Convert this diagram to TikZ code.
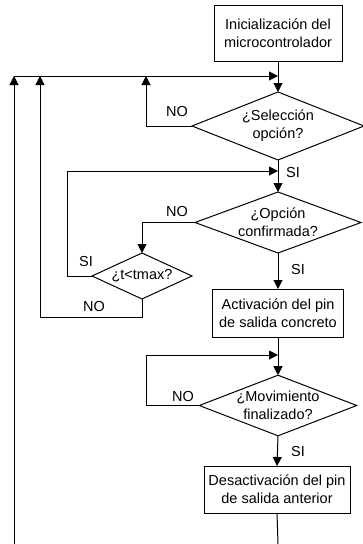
\documentclass[tikz,border=0pt]{standalone}
\usepackage{fontspec}
\setmainfont{Liberation Sans}
\usetikzlibrary{shapes.geometric,arrows.meta}
\tikzset{
  txt/.style={font=\fontsize{14.5}{18}\selectfont, align=center},
  procbox/.style={txt, draw, line width=1pt, inner sep=0pt, outer sep=0pt},
  decision/.style={txt, draw, shape=diamond, line width=1pt, inner sep=0pt, outer sep=0pt, aspect=2.6},
  lbl/.style={font=\fontsize{14.5}{18}\selectfont, inner sep=0pt},
  flow/.style={line width=1pt, -{Triangle[length=9pt,width=9pt]}},
  plain/.style={line width=1pt}
}
\begin{document}
\begin{tikzpicture}[x=1pt,y=-1pt]
\useasboundingbox (0,0) rectangle (363,544);
% nodes
\node[procbox, minimum width=128pt, minimum height=56pt] (init) at (278,33) {Inicialización del\\microcontrolador};
\node[decision, minimum width=172pt, minimum height=68pt] (sel) at (278,126) {¿Selección\\opción?};
\node[decision, minimum width=166pt, minimum height=61pt] (conf) at (278,222.5) {¿Opción\\confirmada?};
\node[decision, minimum width=100pt, minimum height=46pt] (tmax) at (142,276) {¿t<tmax?};
\node[procbox, minimum width=131pt, minimum height=48pt] (act) at (278,313) {Activación del pin\\de salida concreto};
\node[decision, minimum width=152pt, minimum height=57pt] (mov) at (278,405.5) {¿Movimiento\\finalizado?};
\node[procbox, minimum width=146pt, minimum height=47pt] (des) at (277,489.5) {Desactivación del pin\\de salida anterior};
% junction coordinates
\coordinate (j1) at (278,76);
\coordinate (j2) at (278,171);
\coordinate (j3) at (278,355);
\coordinate (b1) at (14,76);
\coordinate (b2) at (40,76);
\coordinate (b3) at (146,76);
\coordinate (botL) at (14,544);
\coordinate (botR) at (278,544);
\coordinate (c1) at (146,126);
\coordinate (c2) at (142,222.5);
\coordinate (c3) at (67,276);
\coordinate (c4) at (67,171);
\coordinate (c5) at (142,317);
\coordinate (c6) at (40,317);
\coordinate (c7) at (146,405.5);
\coordinate (c8) at (146,355);
% main flow
\draw[plain] (init.south) -- (j1);
\draw[flow] (b1) -- (j1);
\draw[flow] (j1) -- (sel.north);
\draw[plain] (sel.south) -- (j2);
\draw[flow] (j2) -- (conf.north);
\draw[flow] (conf.south) -- (act.north);
\draw[plain] (act.south) -- (j3);
\draw[flow] (j3) -- (mov.north);
\draw[flow] (mov.south) -- (des.north);
\draw[plain] (des.south) -- (botR);
\draw[flow] (botL) -- (b1);
% loops
\draw[flow] (sel.west) -- (c1) -- (b3);
\draw[flow] (conf.west) -- (c2) -- (tmax.north);
\draw[flow] (tmax.west) -- (c3) -- (c4) -- (j2);
\draw[flow] (tmax.south) -- (c5) -- (c6) -- (b2);
\draw[flow] (mov.west) -- (c7) -- (c8) -- (j3);
% labels
\node[lbl] at (177,112) {NO};
\node[lbl] at (293,173) {SI};
\node[lbl] at (177,212) {NO};
\node[lbl] at (86,262) {SI};
\node[lbl] at (94,307) {NO};
\node[lbl] at (298,270) {SI};
\node[lbl] at (183,397) {NO};
\node[lbl] at (298,452) {SI};
\end{tikzpicture}
\end{document}
